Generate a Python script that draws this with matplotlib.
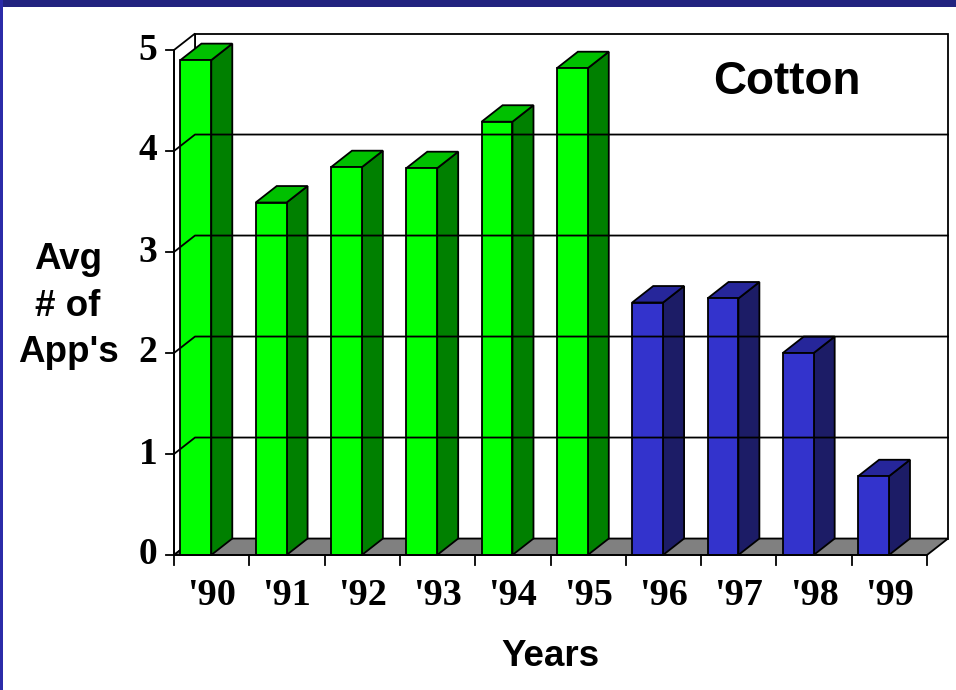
import matplotlib
matplotlib.use('Agg')
import matplotlib.pyplot as plt
from matplotlib.patches import Polygon, Rectangle

years = ["'90", "'91", "'92", "'93", "'94", "'95", "'96", "'97", "'98", "'99"]
avg_apps = [4.9, 3.49, 3.84, 3.83, 4.29, 4.82, 2.5, 2.54, 2.0, 0.78]
y_ticks = [0, 1, 2, 3, 4, 5]

# colours: front, side, top
green = ('#00ff00', '#008000', '#00c000')
blue = ('#3333cc', '#1c1c66', '#26269a')
bar_colors = [green] * 6 + [blue] * 4

# 3d look
dx = 0.279
dy = 0.163
bar_off = 0.085
bar_w = 0.41
lw = 1.3

fig = plt.figure(figsize=(9.56, 6.90), dpi=100, facecolor='white')

# blue frame on top and left
fig.patches.append(Rectangle((0, 1 - 7 / 690), 1, 7 / 690, transform=fig.transFigure,
                             facecolor='#22237f', edgecolor='none'))
fig.patches.append(Rectangle((0, 0), 3 / 956, 1, transform=fig.transFigure,
                             facecolor='#2b2ba8', edgecolor='none'))

ax = fig.add_axes([174 / 956, 135 / 690, 753 / 956, 505 / 690])
ax.set_xlim(0, 10)
ax.set_ylim(0, 5)
ax.axis('off')

n = len(years)
top = y_ticks[-1]

# walls + floor
ax.add_patch(Rectangle((dx, dy), n, top, facecolor='white', edgecolor='black', lw=lw, clip_on=False))
ax.add_patch(Polygon([(0, 0), (dx, dy), (dx, top + dy), (0, top)], closed=True,
                     facecolor='white', edgecolor='black', lw=lw, clip_on=False))
ax.add_patch(Polygon([(0, 0), (n, 0), (n + dx, dy), (dx, dy)], closed=True,
                     facecolor='#808080', edgecolor='black', lw=lw, clip_on=False))

# gridlines
for t in y_ticks[1:-1]:
    ax.plot([0, dx, n + dx], [t, t + dy, t + dy], color='black', lw=lw, clip_on=False)

# bars
for i, v in enumerate(avg_apps):
    front, side, topc = bar_colors[i]
    x0 = i + bar_off
    ax.add_patch(Polygon([(x0 + bar_w, 0), (x0 + bar_w + dx, dy), (x0 + bar_w + dx, v + dy), (x0 + bar_w, v)],
                         closed=True, facecolor=side, edgecolor='black', lw=lw, clip_on=False))
    ax.add_patch(Polygon([(x0, v), (x0 + bar_w, v), (x0 + bar_w + dx, v + dy), (x0 + dx, v + dy)],
                         closed=True, facecolor=topc, edgecolor='black', lw=lw, clip_on=False))
    ax.add_patch(Rectangle((x0, 0), bar_w, v, facecolor=front, edgecolor='black', lw=lw, clip_on=False))

# front axes
ax.plot([0, 0], [0, top], color='black', lw=lw, clip_on=False)
ax.plot([0, n], [0, 0], color='black', lw=lw, clip_on=False)
for t in y_ticks:
    ax.plot([-0.106, 0], [t, t], color='black', lw=lw, clip_on=False)
    ax.text(-0.22, t, str(t), ha='right', va='center', fontsize=27,
            family='Liberation Serif', weight='bold')
for i in range(n + 1):
    ax.plot([i, i], [0, -0.1], color='black', lw=lw, clip_on=False)
for i, lab in enumerate(years):
    ax.text(i + 0.5, -0.4, lab, ha='center', va='center', fontsize=27.5,
            family='Liberation Serif', weight='bold')

ax.text(8.14, 4.68, 'Cotton', ha='center', va='center', fontsize=33,
        family='Liberation Sans', weight='bold')
ax.text(5.0, -1.0, 'Years', ha='center', va='center', fontsize=26.5,
        family='Liberation Sans', weight='bold')
fig.text(68 / 956, 1 - 306 / 690, "Avg\n# of\nApp's", ha='center', va='center', fontsize=26.5,
         family='Liberation Sans', weight='bold', linespacing=1.42)

plt.savefig('out.png', dpi=100, facecolor='white')
